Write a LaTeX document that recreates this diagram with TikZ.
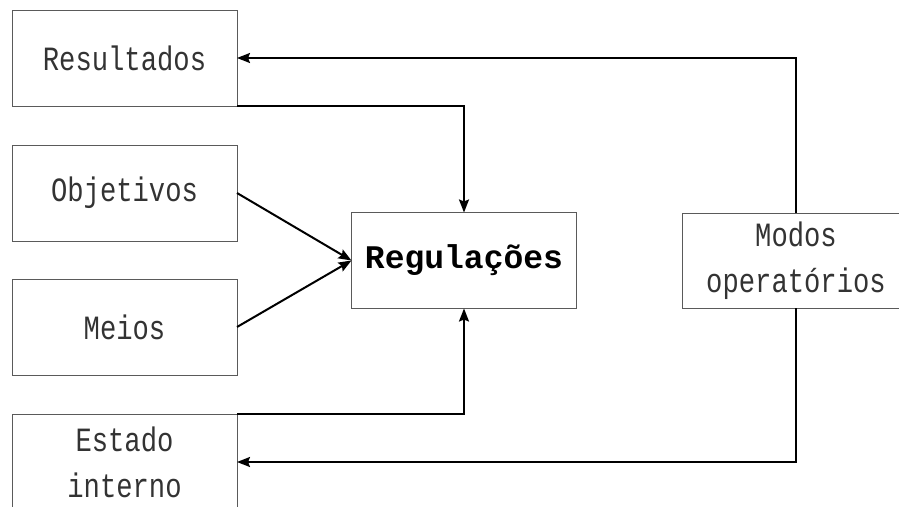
\documentclass[tikz,border=0pt]{standalone}
\usepackage{fontspec}
\usetikzlibrary{arrows.meta}
\newfontfamily\boxfont[FakeStretch=0.8]{Liberation Mono}
\newfontfamily\titlefont{Liberation Mono}
\definecolor{boxline}{HTML}{5A5A5A}
\definecolor{ink}{HTML}{333333}
\tikzset{
  block/.style={draw=boxline, line width=1pt, minimum width=225pt, minimum height=96pt,
    inner sep=0pt, outer sep=0pt, text=ink, font=\boxfont\fontsize{34}{46}\selectfont, align=center},
  link/.style={line width=2pt, -{Stealth[length=13pt,width=10pt,inset=2pt]}},
}
\begin{document}
\begin{tikzpicture}[x=1pt,y=-1pt]
  \useasboundingbox (0,0) rectangle (899,506);
  \clip (0,0) rectangle (899,506);
  % left column of inputs
  \node[block] (res) at (124.5,58) {Resultados};
  \node[block] (obj) at (124.5,193) {Objetivos};
  \node[block] (mei) at (124.5,327) {Meios};
  \node[block] (est) at (124.5,462) {Estado\\interno};
  % central regulation box
  \node[block, text=black, font=\titlefont\bfseries\fontsize{33}{40}\selectfont] (reg) at (464,260.5) {Regulações};
  % operating modes, running off the right edge
  \node[block, minimum width=228pt, minimum height=95pt] (mod) at (796,260.5) {Modos\\operatórios};
  % connectors
  \draw[link] (mod.north) |- (res.east);
  \draw[link] (res.south east) -| (reg.north);
  \draw[link] (obj.east) -- (reg.west);
  \draw[link] (mei.east) -- (reg.west);
  \draw[link] (est.north east) -| (reg.south);
  \draw[link] (mod.south) |- (est.east);
\end{tikzpicture}
\end{document}
